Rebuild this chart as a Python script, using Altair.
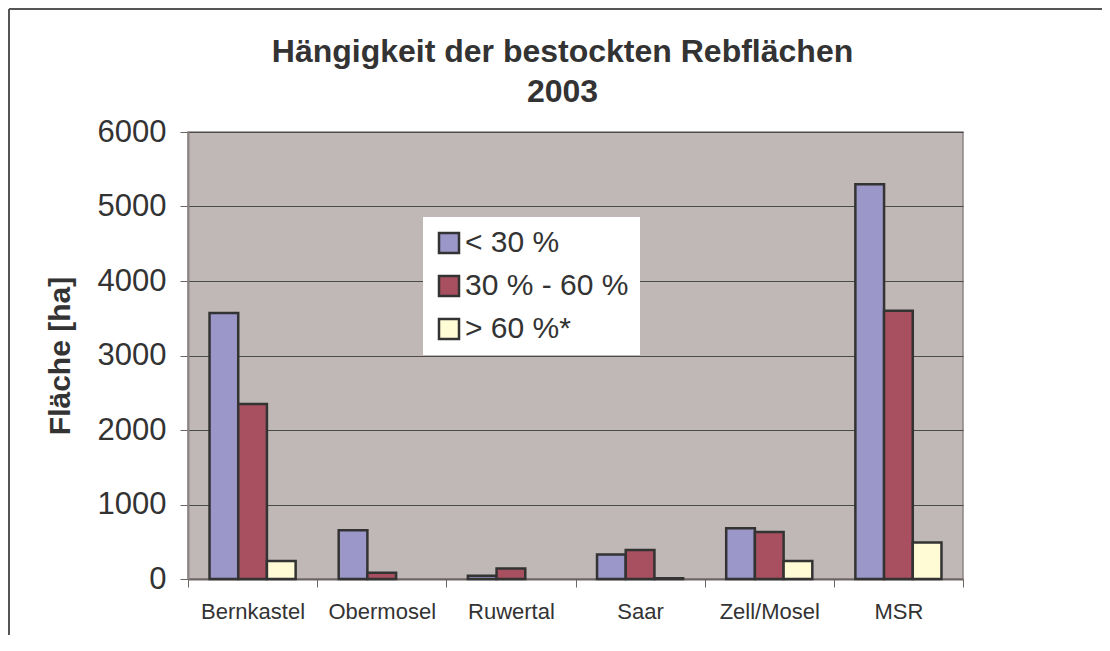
import altair as alt
import pandas as pd

regions = ["Bernkastel", "Obermosel", "Ruwertal", "Saar", "Zell/Mosel", "MSR"]
classes = ["< 30 %", "30 % - 60 %", "> 60 %*"]
lt30 = [3570, 655, 45, 330, 680, 5300]
mid30_60 = [2350, 85, 140, 390, 630, 3600]
gt60 = [240, 0, 0, 10, 240, 490]
y_ticks = [0, 1000, 2000, 3000, 4000, 5000, 6000]
colors = ["#9B97C9", "#A8505F", "#FFFBD5"]

rows = []
for i, r in enumerate(regions):
    for c, vals in zip(classes, [lt30, mid30_60, gt60]):
        rows.append({"Region": r, "Klasse": c, "Flaeche": vals[i]})
df = pd.DataFrame(rows)

FONT = "Liberation Sans"
TXT = "#333333"
W, H = 775, 447
PL, PT, PR, PB = 180, 124, 139, 56

bars = alt.Chart(df).transform_filter("datum.Flaeche > 0").mark_bar(
    stroke="#333333", strokeWidth=2.5).encode(
    x=alt.X("Region:N", sort=regions, title=None,
            scale=alt.Scale(domain=regions, paddingInner=0, paddingOuter=0),
            axis=alt.Axis(labelAngle=0, tickBand="extent", labelFont=FONT, labelFontSize=22,
                          labelColor=TXT, labelPadding=14, tickSize=8, tickColor="#6e6464",
                          domainColor="#6e6464", domainWidth=2, grid=False)),
    xOffset=alt.XOffset("Klasse:N", sort=classes,
                        scale=alt.Scale(domain=classes, paddingInner=0, paddingOuter=0.75)),
    y=alt.Y("Flaeche:Q", scale=alt.Scale(domain=[0, 6000], nice=False),
            axis=alt.Axis(values=y_ticks, format="d", title="Fläche [ha]", titleFont=FONT,
                          titleFontSize=30, titleFontWeight="bold", titleColor=TXT,
                          titlePadding=22, labelFont=FONT, labelFontSize=31, labelColor=TXT,
                          labelPadding=14, tickSize=8, tickColor="#6e6464",
                          domainColor="#8c8585", domainWidth=2,
                          grid=True, gridColor="#4a4a4a", gridWidth=1.2)),
    color=alt.Color("Klasse:N", sort=classes,
                    scale=alt.Scale(domain=classes, range=colors),
                    legend=alt.Legend(title=None, orient="none", legendX=235, legendY=85,
                                      fillColor="white", padding=11, symbolType="square",
                                      symbolSize=400, symbolStrokeColor="#333333",
                                      symbolStrokeWidth=2.5, labelFont=FONT, labelFontSize=30,
                                      labelColor=TXT, labelOffset=1, rowPadding=13,
                                      labelLimit=400))
)

frame = alt.Chart(alt.Data(values=[{}])).mark_rule(color="#555555", strokeWidth=2).encode(
    x=alt.value(-PL + 1), y=alt.value(-PT + 1), y2=alt.value(H + PB)
)
frame_top = alt.Chart(alt.Data(values=[{}])).mark_rule(color="#555555", strokeWidth=2).encode(
    x=alt.value(-PL + 1), x2=alt.value(W + PR), y=alt.value(-PT + 1)
)

chart = alt.layer(bars, frame, frame_top).properties(
    width=W, height=H,
    title=alt.TitleParams(["Hängigkeit der bestockten Rebflächen", "2003"], fontSize=32,
                          font=FONT, fontWeight="bold", color=TXT, lineHeight=40,
                          offset=0, dy=101, dx=-13, anchor="middle"),
    padding={"left": PL, "top": PT, "right": PR, "bottom": PB},
    autosize=alt.AutoSizeParams(type="none"),
).configure(background="white",
            view=alt.ViewConfig(fill="#C0B8B6", stroke="#8c8585", strokeWidth=1.5))

chart.save("out.html", embed_options={"renderer": "svg", "actions": False})
